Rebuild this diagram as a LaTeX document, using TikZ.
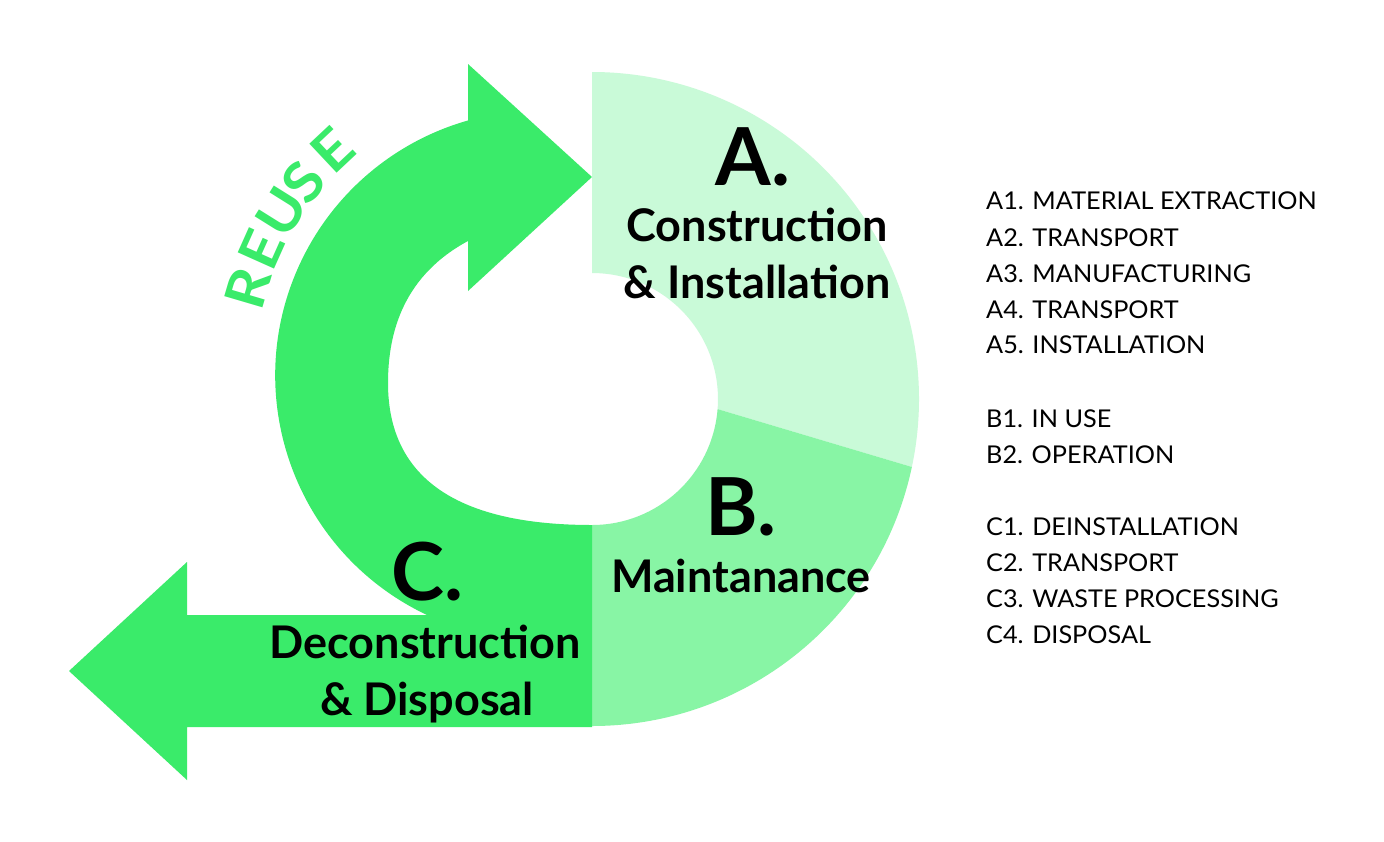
\documentclass[tikz,border=0pt]{standalone}
\usepackage{fontspec}
\setmainfont{Lato}
\newfontfamily\listfont[FakeStretch=1.03]{Lato}
\newfontfamily\reusefont[FakeStretch=1.1]{Lato}
\definecolor{cA}{HTML}{C9FAD8}
\definecolor{cB}{HTML}{88F5A5}
\definecolor{cC}{HTML}{3AEB6A}
\tikzset{
  bigletter/.style={anchor=base, inner sep=0pt, font=\fontsize{80}{80}\selectfont\bfseries},
  phase/.style={anchor=base, inner sep=0pt, font=\fontsize{45}{45}\selectfont\bfseries},
  item/.style={anchor=base west, inner sep=0pt, font=\listfont\fontsize{24.5}{24.5}\selectfont},
  reuse/.style={anchor=center, inner sep=0pt, text=cC, font=\reusefont\fontsize{55}{55}\selectfont\bfseries}
}
\begin{document}
\begin{tikzpicture}[x=1pt,y=-1pt]
\useasboundingbox[fill=white] (0,0) rectangle (1384,841);
% ring segments A and B
\begin{scope}[shift={(592,399)}]
\fill[cA] (-90:327) -- (-90:126) arc[start angle=-90, end angle=4.6, radius=126]
  -- (12:327) arc[start angle=12, end angle=-90, radius=327] -- cycle;
\fill[cB] (4.6:126) -- (12:327) arc[start angle=12, end angle=90, radius=327]
  -- (90:126) arc[start angle=90, end angle=4.6, radius=126] -- cycle;
\end{scope}
% C: curved reuse arrow and outgoing arrow
\fill[cC] (592,525) -- (592,727) -- (187,727) -- (187,780) -- (69,671) -- (187,562) -- (187,615)
  -- (427,615) arc[start angle=115.3, end angle=254.2, radius=265]
  -- (468,64) -- (592,177) -- (468,291) -- (468,241)
  .. controls (405,275) and (388,330) .. (388,383)
  .. controls (388,480) and (460,525) .. (592,525) -- cycle;
% REUSE along the arc
\begin{scope}[shift={(543,375)}]
\foreach \ch/\ang [count=\i] in {R/196.4, E/204.1, U/212.0, S/218.8, E/226.8}
  \node[reuse, rotate={270-\ang}] (reuse\i) at (\ang:308) {\ch};
\end{scope}
% phase labels
\node[bigletter] (ha) at (753,185) {A.};
\node[phase] (ta1) at (757,241) {Construction};
\node[phase] (ta2) at (757,298) {\& Installation};
\node[bigletter] (hb) at (741,535) {B.};
\node[phase] (tb1) at (741,592) {Maintanance};
\node[bigletter] (hc) at (427,600) {C.};
\node[phase] (tc1) at (425,658) {Deconstruction};
\node[phase] (tc2) at (427,715) {\& Disposal};
% list
\node[item] (a1) at (986,209) {A1. MATERIAL EXTRACTION};
\node[item] (a2) at (986,246) {A2. TRANSPORT};
\node[item] (a3) at (986,282) {A3. MANUFACTURING};
\node[item] (a4) at (986,318) {A4. TRANSPORT};
\node[item] (a5) at (986,353) {A5. INSTALLATION};
\node[item] (b1) at (986,427) {B1. IN USE};
\node[item] (b2) at (986,463) {B2. OPERATION};
\node[item] (c1) at (986,535) {C1. DEINSTALLATION};
\node[item] (c2) at (986,571) {C2. TRANSPORT};
\node[item] (c3) at (986,607) {C3. WASTE PROCESSING};
\node[item] (c4) at (986,643) {C4. DISPOSAL};
\end{tikzpicture}
\end{document}
